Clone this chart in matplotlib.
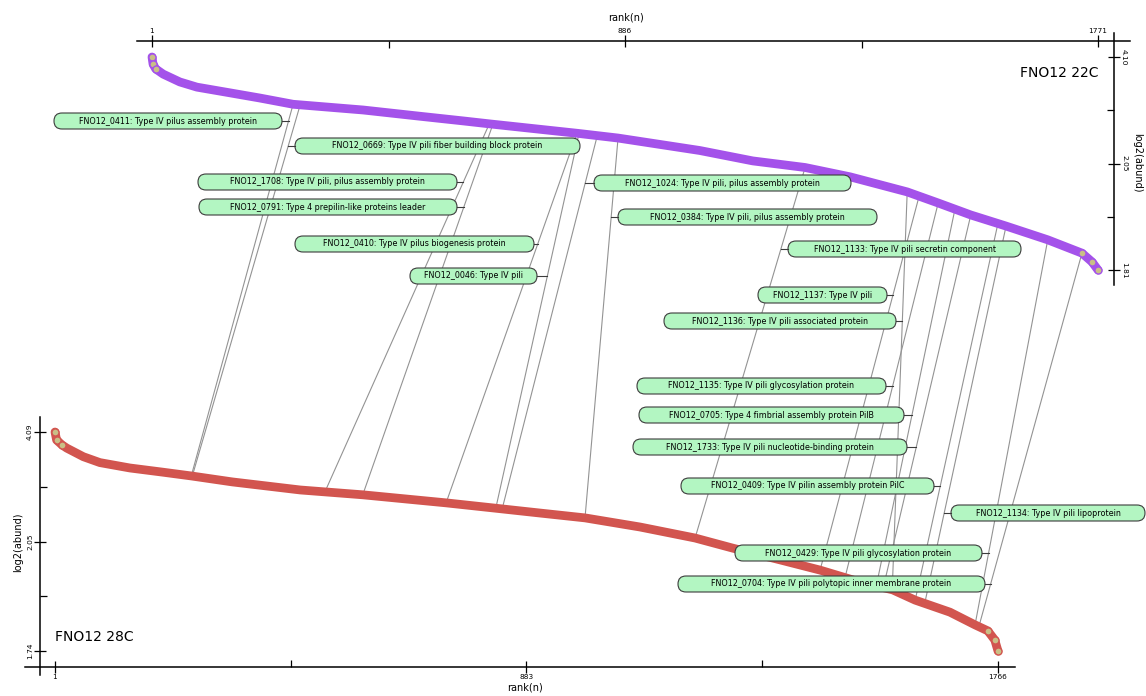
import matplotlib
matplotlib.use("Agg")
import matplotlib.pyplot as plt
import numpy as np
from matplotlib.patches import FancyBboxPatch

W, H = 1146, 696

# FNO12 22C: abundance-ranked proteins (rank, log2 abundance)
rank_22 = [1, 3, 8, 22, 53, 85, 147, 203, 265, 396, 502, 583, 635, 798, 873,
           1026, 1125, 1223, 1307, 1414, 1472, 1533, 1599, 1677, 1741, 1760, 1771]
abund_22 = [4.10, 3.96, 3.87, 3.77, 3.62, 3.52, 3.41, 3.31, 3.19, 3.08, 2.96, 2.87,
            2.81, 2.63, 2.54, 2.30, 2.10, 2.041, 2.02, 1.986, 1.961, 1.934, 1.909,
            1.878, 1.848, 1.828, 1.81]

# FNO12 28C
rank_28 = [1, 4, 14, 23, 54, 85, 141, 204, 257, 333, 460, 577, 733, 826, 909, 993,
           1096, 1199, 1270, 1358, 1433, 1508, 1569, 1611, 1676, 1723, 1747, 1760, 1766]
abund_28 = [4.09, 3.94, 3.85, 3.79, 3.63, 3.52, 3.42, 3.34, 3.27, 3.16, 3.01, 2.92,
            2.77, 2.67, 2.58, 2.49, 2.32, 2.115, 2.031, 1.998, 1.969, 1.935, 1.913,
            1.884, 1.850, 1.814, 1.797, 1.771, 1.74]

# type IV pili genes, position in both rankings
genes = [
    "FNO12_0411: Type IV pilus assembly protein",
    "FNO12_0669: Type IV pili fiber building block protein",
    "FNO12_1708: Type IV pili, pilus assembly protein",
    "FNO12_0791: Type 4 prepilin-like proteins leader",
    "FNO12_0410: Type IV pilus biogenesis protein",
    "FNO12_0046: Type IV pili",
    "FNO12_1024: Type IV pili, pilus assembly protein",
    "FNO12_0384: Type IV pili, pilus assembly protein",
    "FNO12_1133: Type IV pili secretin component",
    "FNO12_1137: Type IV pili",
    "FNO12_1136: Type IV pili associated protein",
    "FNO12_1135: Type IV pili glycosylation protein",
    "FNO12_0705: Type 4 fimbrial assembly protein PilB",
    "FNO12_1733: Type IV pili nucleotide-binding protein",
    "FNO12_0409: Type IV pilin assembly protein PilC",
    "FNO12_1134: Type IV pili lipoprotein",
    "FNO12_0429: Type IV pili glycosylation protein",
    "FNO12_0704: Type IV pili polytopic inner membrane protein",
]
gene_rank_22 = [265, 278, 632, 639, 796, 800, 834, 873, 1223, 1436, 1414, 1472,
                1503, 1533, 1584, 1599, 1677, 1741]
gene_abund_22 = [3.19, 3.17, 2.81, 2.81, 2.63, 2.63, 2.58, 2.54, 2.041, 1.975, 1.986,
                 1.961, 1.945, 1.934, 1.916, 1.909, 1.878, 1.848]
gene_rank_28 = [256, 258, 506, 577, 733, 826, 838, 993, 1199, 1433, 1568, 1480,
                1538, 1551, 1611, 1629, 1723, 1730]
gene_abund_28 = [3.27, 3.27, 2.97, 2.92, 2.77, 2.67, 2.66, 2.49, 2.115, 1.969, 1.913,
                 1.95, 1.923, 1.918, 1.884, 1.876, 1.814, 1.808]

# label boxes in pixels: left, right, centre y, side of the leader stub
boxes = [
    (54, 282, 121, "r"), (295, 580, 146, "l"), (198, 457, 182, "r"),
    (199, 457, 207, "r"), (295, 534, 244, "r"), (410, 537, 276, "r"),
    (594, 851, 183, "l"), (618, 877, 217, "l"), (788, 1021, 249, "l"),
    (758, 887, 295, "r"), (664, 896, 321, "r"), (637, 886, 386, "r"),
    (639, 904, 415, "r"), (633, 907, 447, "r"), (681, 934, 486, "r"),
    (951, 1145, 513, "l"), (735, 982, 553, "r"), (678, 985, 584, "r"),
]

top_ticks = [1.81, 2.05, 4.10]
bot_ticks = [1.74, 2.05, 4.09]

PURPLE = "#a452ea"
RED = "#d2554f"
TAN = "#c9bf86"
PT = 0.72  # points per pixel at dpi 100


def stretch(lo, mid, hi):
    def fwd(v):
        v = np.asarray(v, float)
        return np.where(v < mid, (v - lo) / (mid - lo) * 0.5,
                        0.5 + (v - mid) / (hi - mid) * 0.5)

    def inv(t):
        t = np.asarray(t, float)
        return np.where(t < 0.5, lo + t * 2 * (mid - lo),
                        mid + (t - 0.5) * 2 * (hi - mid))
    return fwd, inv


def frac(l, t, r, b):
    return [l / W, 1 - b / H, (r - l) / W, (b - t) / H]


def to_px(ax, x, y):
    dx, dy = ax.transData.transform((x, y))
    return dx, H - dy


def from_px(ax, px, py):
    return ax.transData.inverted().transform((px, H - py))


fig = plt.figure(figsize=(W / 100, H / 100), dpi=100)
fig.patch.set_facecolor("white")

ax_lines = fig.add_axes([0, 0, 1, 1], zorder=0, label="lines")
ax_top = fig.add_axes(frac(152, 57, 1098, 270), zorder=1, label="top")
ax_bot = fig.add_axes(frac(55, 432, 998, 651), zorder=1, label="bottom")
ax_lab = fig.add_axes([0, 0, 1, 1], zorder=2, label="labels")
for a in (ax_lines, ax_lab):
    a.set_xlim(0, W)
    a.set_ylim(H, 0)
    a.axis("off")

ax_top.set_xlim(1, 1771)
ax_top.set_yscale("function", functions=stretch(*top_ticks))
ax_top.set_ylim(top_ticks[0], top_ticks[-1])
ax_bot.set_xlim(1, 1766)
ax_bot.set_yscale("function", functions=stretch(*bot_ticks))
ax_bot.set_ylim(bot_ticks[0], bot_ticks[-1])

for ax, xs, ys, col in ((ax_top, rank_22, abund_22, PURPLE),
                        (ax_bot, rank_28, abund_28, RED)):
    ax.patch.set_visible(False)
    ax.plot(xs, ys, color=col, lw=6.3, solid_capstyle="round",
            solid_joinstyle="round", clip_on=False, zorder=2)
    ex = xs[:3] + xs[-3:]
    ey = ys[:3] + ys[-3:]
    ax.scatter(ex, ey, s=26, c=TAN, edgecolors=col, linewidths=1,
               clip_on=False, zorder=3)

# top panel: axes on top and right
for s in ("left", "bottom"):
    ax_top.spines[s].set_visible(False)
ax_top.spines["top"].set_position(("outward", 16 * PT))
ax_top.spines["right"].set_position(("outward", 16 * PT))
ax_top.spines["top"].set_bounds(from_px(ax_top, 137, 41)[0], from_px(ax_top, 1130, 41)[0])
ax_top.spines["right"].set_bounds(from_px(ax_top, 1114, 285)[1], from_px(ax_top, 1114, 33)[1])
ax_top.xaxis.tick_top()
ax_top.set_xticks([1, 886, 1771], ["1", "886", "1771"])
ax_top.set_xticks([443.5, 1328.5], minor=True)
ax_top.yaxis.tick_right()
ax_top.set_yticks(top_ticks, ["%.2f" % v for v in top_ticks])
ax_top.set_yticks(stretch(*top_ticks)[1]([0.25, 0.75]), minor=True)
ax_top.tick_params(axis="y", which="major", labelrotation=-90)

# bottom panel: axes on left and bottom
for s in ("right", "top"):
    ax_bot.spines[s].set_visible(False)
ax_bot.spines["left"].set_position(("outward", 15 * PT))
ax_bot.spines["bottom"].set_position(("outward", 16 * PT))
ax_bot.spines["bottom"].set_bounds(from_px(ax_bot, 25, 667)[0], from_px(ax_bot, 1015, 667)[0])
ax_bot.spines["left"].set_bounds(from_px(ax_bot, 40, 675)[1], from_px(ax_bot, 40, 417)[1])
ax_bot.set_xticks([1, 883, 1766], ["1", "883", "1766"])
ax_bot.set_xticks([442, 1324.5], minor=True)
ax_bot.set_yticks(bot_ticks, ["%.2f" % v for v in bot_ticks])
ax_bot.set_yticks(stretch(*bot_ticks)[1]([0.25, 0.75]), minor=True)
ax_bot.tick_params(axis="y", which="major", labelrotation=90)

for ax in (ax_top, ax_bot):
    for s in ax.spines.values():
        s.set_linewidth(1.1)
    ax.tick_params(which="major", direction="inout", length=8, width=0.9,
                   labelsize=5.3, pad=1)
    ax.tick_params(which="minor", direction="in", length=5, width=0.9)
    for t in ax.yaxis.get_major_ticks():
        t.label1.set_va("center")
        t.label2.set_va("center")

fig.text(626 / W, 1 - 18 / H, "rank(n)", ha="center", va="center", fontsize=7)
fig.text(525 / W, 1 - 688 / H, "rank(n)", ha="center", va="center", fontsize=7)
fig.text(1137 / W, 1 - 163 / H, "log2(abund)", ha="center", va="center",
         fontsize=7, rotation=-90)
fig.text(18 / W, 1 - 542 / H, "log2(abund)", ha="center", va="center",
         fontsize=7, rotation=90)
fig.text(1099 / W, 1 - 73 / H, "FNO12 22C", ha="right", va="center", fontsize=10)
fig.text(55 / W, 1 - 637 / H, "FNO12 28C", ha="left", va="center", fontsize=10)

# connectors between the two rankings, with labelled boxes
for i, name in enumerate(genes):
    x1, y1 = to_px(ax_top, gene_rank_22[i], gene_abund_22[i])
    x2, y2 = to_px(ax_bot, gene_rank_28[i], gene_abund_28[i])
    ax_lines.plot([x1, x2], [y1, y2], color="#939393", lw=0.8)

    left, right, yc, side = boxes[i]
    hgt = 16
    ax_lab.add_patch(FancyBboxPatch((left, yc - hgt / 2), right - left, hgt,
                                    boxstyle="round,pad=0,rounding_size=%g" % (hgt / 2),
                                    fc="#b3f6c2", ec="#3c3c3c", lw=0.8))
    ax_lab.text((left + right) / 2, yc, name, ha="center", va="center",
                fontsize=5.8)
    xl = x1 + (yc - y1) * (x2 - x1) / (y2 - y1)
    edge = right if side == "r" else left
    ax_lab.plot([edge, xl], [yc, yc], color="#3c3c3c", lw=0.8)

fig.savefig("out.png", dpi=100)
